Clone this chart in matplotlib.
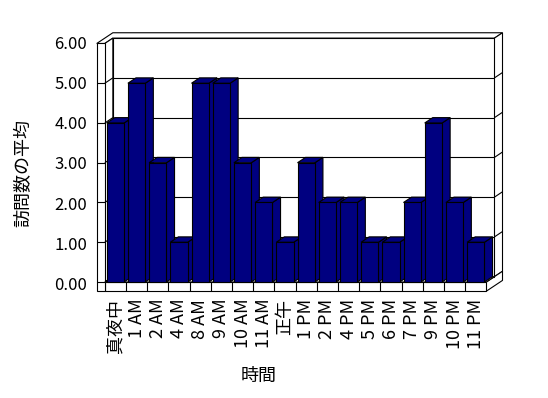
import numpy as np
import matplotlib
matplotlib.use("Agg")
import matplotlib.pyplot as plt
from matplotlib.patches import Polygon

plt.rcParams['font.family'] = ['Noto Sans CJK JP', 'DejaVu Sans']

# data
hours = ['真夜中', '1 AM', '2 AM', '4 AM', '8 AM', '9 AM', '10 AM', '11 AM', '正午',
         '1 PM', '2 PM', '4 PM', '5 PM', '6 PM', '7 PM', '9 PM', '10 PM', '11 PM']
visits = [4, 5, 3, 1, 5, 5, 3, 2, 1, 3, 2, 2, 1, 1, 2, 4, 2, 1]
yticks = [0, 1, 2, 3, 4, 5, 6]
y_title = '訪問数の平均'
x_title = '時間'

navy = '#000080'
lw = 0.8

fig = plt.figure(figsize=(5.48, 3.98), dpi=100)
ax = fig.add_axes([0, 0, 1, 1])
ax.set_xlim(-5.443, 20.406)
ax.set_ylim(-2.918, 7.094)
ax.axis('off')

n = len(hours)
ymax = yticks[-1]
L, R = -0.5, n - 0.5
dx, dy = 0.38, 0.135   # depth offset of the pseudo-3d box
t = dx                  # side wall thickness
fl = 0.23               # floor thickness


def poly(pts, z, fc='white'):
    ax.add_patch(Polygon(pts, closed=True, facecolor=fc, edgecolor='black',
                         lw=lw, zorder=z, joinstyle='miter'))


def seg(p, q, z):
    ax.plot([p[0], q[0]], [p[1], q[1]], color='black', lw=lw, zorder=z,
            solid_capstyle='butt')


# walls and floor
poly([(L - t, ymax), (L + dx, ymax + 2 * dy), (R + 2 * dx, ymax + 2 * dy),
      (R + dx, ymax + dy), (L + dx, ymax + dy), (L, ymax)], 1)
poly([(R + dx, ymax + dy), (R + 2 * dx, ymax + 2 * dy), (R + 2 * dx, 2 * dy),
      (R + dx, dy)], 1)
poly([(R, -fl), (R, 0), (R + dx, dy), (R + 2 * dx, 2 * dy),
      (R + 2 * dx, -fl + 2 * dy)], 1)
poly([(L + dx, dy), (R + dx, dy), (R + dx, ymax + dy), (L + dx, ymax + dy)], 1)
poly([(L, 0), (L, ymax), (L + dx, ymax + dy), (L + dx, dy)], 1)
poly([(L, 0), (R, 0), (R + dx, dy), (L + dx, dy)], 1)
poly([(L, -fl), (R, -fl), (R, 0), (L, 0)], 1)
poly([(L - t, -fl), (L - t, ymax), (L, ymax), (L, -fl)], 1)

for v in yticks[1:-1]:
    seg((L + dx, v + dy), (R + dx, v + dy), 2)
    seg((R + dx, v + dy), (R + 2 * dx, v + 2 * dy), 2)
for v in yticks[:-1]:
    seg((L, v), (L + dx, v + dy), 2)
    seg((L - t, v), (L, v), 2)
for k in range(1, n):
    seg((L + k, -fl), (L + k, 0), 2)

# bars
x = np.arange(n)
w = 0.82
bars = ax.bar(x, visits, width=w, color=navy, edgecolor='black', lw=lw)
for i, (b, v) in enumerate(zip(bars, visits)):
    xr = x[i] + w / 2
    xl = x[i] - w / 2
    poly([(xr, 0), (xr, v), (xr + dx, v + dy), (xr + dx, dy)], 10 + 3 * i, navy)
    poly([(xl, v), (xr, v), (xr + dx, v + dy), (xl + dx, v + dy)], 11 + 3 * i, navy)
    b.set_zorder(12 + 3 * i)

# labels
for v in yticks:
    ax.text(L - t - 0.45, v - 0.05 * (6 - v) / 6 - 0.03, f'{v:.2f}', ha='right',
            va='center', fontsize=12)
for i, h in enumerate(hours):
    ax.text(x[i], -0.42, h, rotation=90, ha='center', va='top', fontsize=13)
ax.text(6.77, -2.37, x_title, ha='center', va='center', fontsize=13)
ax.text(-4.36, 2.73, y_title, rotation=90, ha='center', va='center', fontsize=13)

fig.savefig('out.png', dpi=100)
